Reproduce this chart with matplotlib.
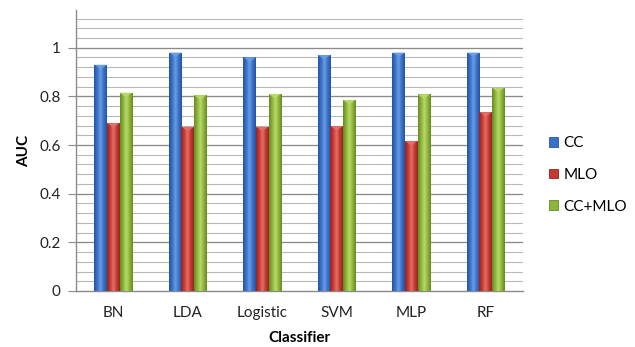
import numpy as np
import matplotlib
matplotlib.use("Agg")
import matplotlib.pyplot as plt
from matplotlib.colors import LinearSegmentedColormap
from matplotlib.patches import Polygon, Patch

classifiers = ["BN", "LDA", "Logistic", "SVM", "MLP", "RF"]
series_names = ["CC", "MLO", "CC+MLO"]
cc = [0.93, 0.98, 0.96, 0.97, 0.98, 0.98]
mlo = [0.69, 0.675, 0.675, 0.678, 0.616, 0.735]
cc_mlo = [0.815, 0.805, 0.81, 0.785, 0.808, 0.835]
y_ticks = [0, 0.2, 0.4, 0.6, 0.8, 1]
y_tick_labels = ["0", "0.2", "0.4", "0.6", "0.8", "1"]

# dark edge, base, highlight for each series
palettes = [
    ("#24559f", "#3a70c8", "#6a9fe4"),
    ("#922520", "#c63a33", "#e4706a"),
    ("#648a24", "#8db53a", "#b9d96c"),
]

plt.rcParams["font.family"] = ["Lato", "DejaVu Sans"]

fig = plt.figure(figsize=(6.35, 3.47), dpi=100)
ax = fig.add_axes([76 / 635, 1 - 291 / 347, 447 / 635, 281 / 347])

x = np.arange(len(classifiers))
width = 0.168
offsets = [-width, 0, width]
ymax = 1.155

ax.set_xlim(-0.5, len(classifiers) - 0.5)
ax.set_ylim(0, ymax)

# light minor grid every 0.04, darker major grid every 0.2
for v in np.arange(0.04, ymax, 0.04):
    ax.axhline(v, color="#b8b8b8", lw=0.8, zorder=0)
for v in y_ticks[1:]:
    ax.axhline(v, color="#8a8a8a", lw=0.9, zorder=0)

for values, off, (dark, base, light) in zip([cc, mlo, cc_mlo], offsets, palettes):
    bars = ax.bar(x + off, values, width, color=base, zorder=2, linewidth=0)
    cmap = LinearSegmentedColormap.from_list("shade", [dark, base, light, base, dark])
    grad = np.linspace(0, 1, 64).reshape(1, -1)
    for b in bars:
        x0, w, h = b.get_x(), b.get_width(), b.get_height()
        im = ax.imshow(grad, cmap=cmap, aspect="auto", extent=(x0, x0 + w, 0, h),
                       zorder=3, interpolation="bilinear")
        im.set_clip_path(b)
        # small pointed cap on top of each bar
        tip = Polygon([(x0, h), (x0 + w, h), (x0 + w / 2, h - 0.018)], closed=True,
                      facecolor=light, edgecolor="none", zorder=4, alpha=0.9)
        ax.add_patch(tip)

ax.set_xlim(-0.5, len(classifiers) - 0.5)
ax.set_ylim(0, ymax)

for s in ["top", "right"]:
    ax.spines[s].set_visible(False)
ax.spines["left"].set_color("#8a8a8a")
ax.spines["bottom"].set_color("#8a8a8a")
ax.spines["left"].set_linewidth(1.0)
ax.spines["bottom"].set_linewidth(1.0)

ax.set_yticks(y_ticks)
ax.set_yticklabels(y_tick_labels)
ax.tick_params(axis="y", length=6, color="#8a8a8a", labelsize=11, pad=5, labelcolor="#222222")
ax.set_xticks(x)
ax.set_xticklabels(classifiers)
ax.tick_params(axis="x", length=0, labelsize=11, pad=11, labelcolor="#222222")

ax.set_ylabel("AUC", fontsize=11, fontweight="bold", labelpad=6)
ax.set_xlabel("Classifier", fontsize=11, fontweight="bold", labelpad=8)

handles = [Patch(facecolor=p[1], edgecolor=p[0], linewidth=0.6) for p in palettes]
fig.legend(handles, series_names, loc="center left", bbox_to_anchor=(535 / 635, 1 - 175 / 347),
           frameon=False, fontsize=11, handlelength=0.6, handleheight=0.6,
           handletextpad=0.35, labelspacing=1.15)

fig.savefig("out.png", dpi=100)
